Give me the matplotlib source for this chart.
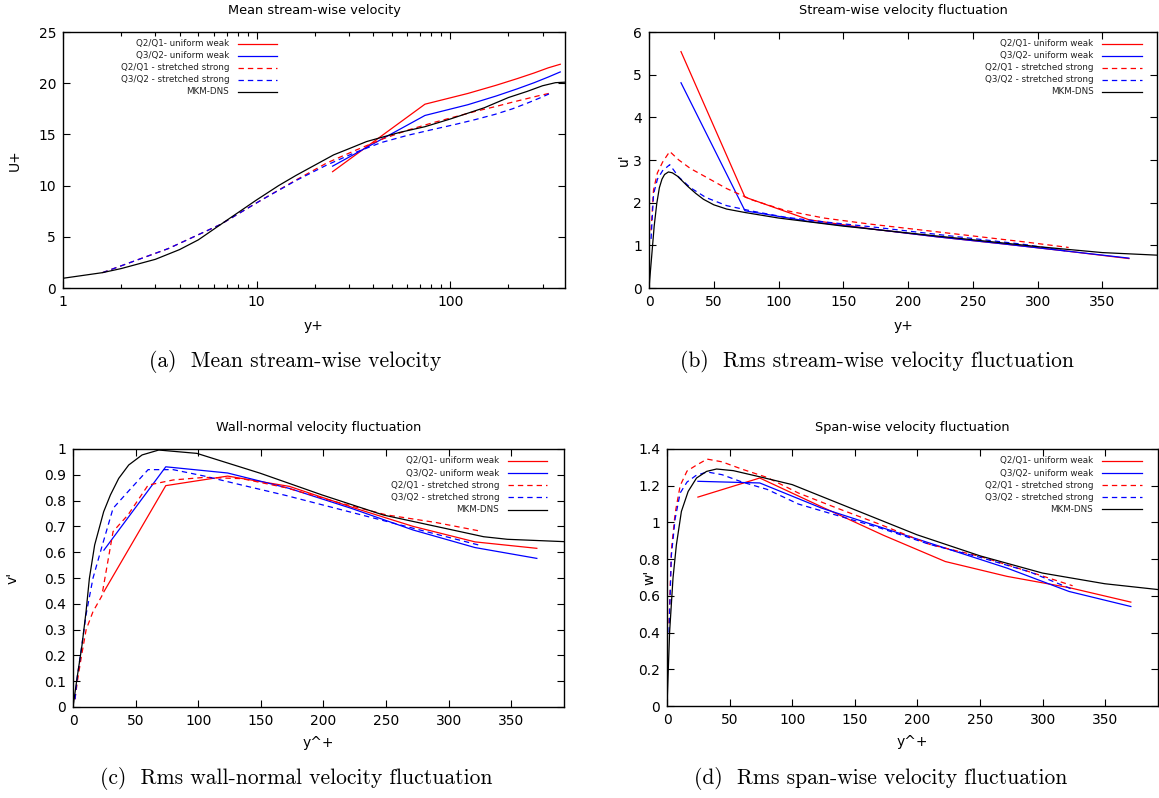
import numpy as np
import matplotlib
matplotlib.use("Agg")
import matplotlib.pyplot as plt
from matplotlib.ticker import FuncFormatter, LogLocator, NullFormatter


# ── Data ─────────────────────────────────────────────────────────────────────
# uniform weak grid (cell centres) and stretched strong grid
y_uni = [24.7, 74.1, 123.5, 172.9, 222.3, 271.7, 321.1, 370.5]
y_str = [1.6, 3.5, 6.5, 10.5, 16, 23, 32, 44, 60, 80, 105, 135, 170, 210, 250, 290, 324]

# (a) mean velocity U+
y_dns_U = [1.0, 1.6, 2.0, 3.0, 4.0, 5.0, 7.0, 10.0, 13.0, 16.0, 20.0, 25.0, 30.0,
           37.0, 45.0, 55.0, 74.0, 100.0, 150.0, 200.0, 250.0, 300.0, 350.0, 392.0]
U_dns = [0.95, 1.5, 1.9, 2.8, 3.75, 4.7, 6.6, 8.6, 10.0, 11.0, 12.0, 13.0, 13.6,
         14.3, 14.75, 15.2, 15.75, 16.5, 17.6, 18.6, 19.2, 19.75, 20.05, 20.1]
U_uni_q21 = [11.36, 17.95, 19.0, 19.8, 20.45, 21.0, 21.5, 21.85]
U_uni_q32 = [11.9, 16.85, 17.9, 18.75, 19.45, 20.05, 20.6, 21.1]
U_str_q21 = [1.5, 3.85, 6.2, 8.55, 10.55, 12.2, 13.4, 14.5, 15.4, 16.1, 16.7,
             17.25, 17.7, 18.15, 18.5, 18.8, 19.0]
U_str_q32 = [1.5, 3.85, 6.2, 8.55, 10.5, 12.0, 13.2, 14.2, 14.9, 15.45, 15.95,
             16.45, 16.95, 17.5, 18.05, 18.55, 18.95]

# (b) stream-wise fluctuation u'
y_dns_f = [0, 2, 4, 6, 8, 10, 12, 15, 18, 22, 26, 30, 36, 42, 50, 60, 74, 100,
           150, 200, 250, 300, 350, 392]
u_dns = [0, 0.72, 1.45, 1.98, 2.35, 2.55, 2.66, 2.72, 2.70, 2.62, 2.50, 2.38,
         2.22, 2.08, 1.95, 1.85, 1.77, 1.64, 1.45, 1.29, 1.13, 0.97, 0.83, 0.77]
u_uni_q21 = [5.54, 2.13, 1.60, 1.38, 1.20, 1.04, 0.87, 0.69]
u_uni_q32 = [4.81, 1.81, 1.56, 1.38, 1.20, 1.04, 0.87, 0.70]
u_str_q21 = [1.35, 2.3, 2.7, 2.95, 3.2, 3.0, 2.8, 2.6, 2.33, 2.06, 1.82, 1.64,
             1.50, 1.36, 1.22, 1.08, 0.95]
u_str_q32 = [1.15, 2.2, 2.55, 2.75, 2.89, 2.6, 2.35, 2.12, 1.93, 1.80, 1.66,
             1.55, 1.44, 1.30, 1.16, 1.02, 0.86]

# (c) wall-normal fluctuation v'
y_dns_v = [0, 3.2, 7.2, 10.4, 13.1, 17.3, 24.5, 29.9, 36.5, 44.5, 55.2, 68.5,
           99, 149.6, 198.9, 248, 297.6, 328, 347, 392]
v_dns = [0, 0.111, 0.240, 0.369, 0.499, 0.628, 0.757, 0.822, 0.886, 0.938,
         0.977, 0.996, 0.983, 0.906, 0.822, 0.744, 0.692, 0.66, 0.65, 0.641]
v_uni_q21 = [0.447, 0.858, 0.895, 0.855, 0.775, 0.70, 0.64, 0.615]
v_uni_q32 = [0.608, 0.931, 0.907, 0.847, 0.770, 0.686, 0.618, 0.576]
v_str_q21 = [0.03, 0.1, 0.19, 0.3, 0.37, 0.43, 0.68, 0.745, 0.86, 0.88, 0.89,
             0.885, 0.85, 0.795, 0.745, 0.715, 0.683]
v_str_q32 = [0.03, 0.12, 0.22, 0.36, 0.5, 0.62, 0.77, 0.835, 0.92, 0.92, 0.895,
             0.86, 0.82, 0.77, 0.72, 0.67, 0.628]

# (d) span-wise fluctuation w'
y_dns_w = [0, 2.1, 4.8, 7.5, 11.5, 16.9, 23.6, 31.6, 39.6, 53, 74.4, 100, 150,
           199.6, 250, 300, 349.7, 394]
w_dns = [0, 0.405, 0.697, 0.878, 1.06, 1.169, 1.242, 1.278, 1.291, 1.282,
         1.248, 1.206, 1.069, 0.933, 0.818, 0.724, 0.666, 0.633]
w_uni_q21 = [1.138, 1.242, 1.085, 0.93, 0.787, 0.706, 0.645, 0.566]
w_uni_q32 = [1.224, 1.215, 1.078, 0.969, 0.86, 0.751, 0.624, 0.542]
w_str_q21 = [0.45, 0.85, 1.05, 1.2, 1.28, 1.31, 1.345, 1.33, 1.29, 1.245, 1.16,
             1.08, 0.99, 0.88, 0.815, 0.73, 0.655]
w_str_q32 = [0.4, 0.82, 1.02, 1.16, 1.22, 1.255, 1.275, 1.26, 1.22, 1.18, 1.10,
             1.04, 0.97, 0.88, 0.81, 0.73, 0.635]

labels = ["Q2/Q1- uniform weak", "Q3/Q2- uniform weak",
          "Q2/Q1 - stretched strong", "Q3/Q2 - stretched strong", "MKM-DNS"]
colors = ["#ff0000", "#0000ff", "#ff0000", "#0000ff", "#000000"]
DASH = (0, (4.3, 3.2))
styles = ["-", "-", DASH, DASH, "-"]
LW = 0.9

W, H = 1159, 798


def add_axes_px(fig, left, top, right, bottom):
    return fig.add_axes([left / W, 1 - bottom / H, (right - left) / W, (bottom - top) / H])


def style_axes(ax):
    ax.tick_params(which="both", direction="in", top=True, right=True,
                   labelsize=10, pad=5)
    ax.tick_params(which="major", length=5, width=0.8)
    ax.tick_params(which="minor", length=3, width=0.8)
    for s in ax.spines.values():
        s.set_linewidth(1.0)


def draw_key(ax, x_text, x0, x1, y_top, dy):
    # gnuplot-style key: right-justified text, sample line on the right
    for i, (lab, c, ls) in enumerate(zip(labels, colors, styles)):
        y = y_top - i * dy
        ax.text(x_text, y, lab, transform=ax.transAxes, ha="right", va="center",
                fontsize=6.3, color="#222222")
        ax.plot([x0, x1], [y, y], transform=ax.transAxes, color=c,
                linestyle=ls, linewidth=LW, clip_on=False)


def plot_panel(ax, y_dns, dns, uni21, uni32, str21, str32):
    ax.plot(y_uni, uni21, color=colors[0], linestyle=styles[0], linewidth=LW)
    ax.plot(y_uni, uni32, color=colors[1], linestyle=styles[1], linewidth=LW)
    ax.plot(y_str, str21, color=colors[2], linestyle=styles[2], linewidth=LW)
    ax.plot(y_str, str32, color=colors[3], linestyle=styles[3], linewidth=LW)
    ax.plot(y_dns, dns, color=colors[4], linestyle=styles[4], linewidth=LW)


def finish(ax, title, xlab, ylab, ylab_x, xlab_y, title_y):
    style_axes(ax)
    ax.set_ylabel(ylab, fontsize=10)
    ax.set_xlabel(xlab, fontsize=10)
    ax.yaxis.set_label_coords(ylab_x, 0.5)
    ax.xaxis.set_label_coords(0.5, xlab_y)
    ax.text(0.5, title_y, title, transform=ax.transAxes,
            ha="center", va="center", fontsize=9.3)


fmt_g = FuncFormatter(lambda v, p: "%g" % v)

fig = plt.figure(figsize=(W / 100, H / 100), dpi=100)

# ── (a) mean velocity ────────────────────────────────────────────────────────
ax = add_axes_px(fig, 63, 32, 565, 288)
plot_panel(ax, y_dns_U, U_dns, U_uni_q21, U_uni_q32, U_str_q21, U_str_q32)
ax.set_xscale("log")
ax.set_xlim(1, 392)
ax.set_ylim(0, 25)
ax.set_yticks(np.arange(0, 26, 5))
ax.xaxis.set_major_formatter(fmt_g)
ax.xaxis.set_minor_locator(LogLocator(base=10, subs=np.arange(2, 10)))
ax.xaxis.set_minor_formatter(NullFormatter())
finish(ax, "Mean stream-wise velocity", "y+", "U+", -0.082, -0.122, 1.084)
draw_key(ax, 0.331, 0.349, 0.427, 0.954, 0.0469)

# ── (b) stream-wise fluctuation ──────────────────────────────────────────────
ax = add_axes_px(fig, 649, 32, 1157, 288)
plot_panel(ax, y_dns_f, u_dns, u_uni_q21, u_uni_q32, u_str_q21, u_str_q32)
ax.set_xlim(0, 392.2)
ax.set_ylim(0, 6)
ax.set_xticks(np.arange(0, 351, 50))
ax.set_yticks(np.arange(0, 7, 1))
ax.yaxis.set_major_formatter(fmt_g)
finish(ax, "Stream-wise velocity fluctuation", "y+", "u'", -0.035, -0.122, 1.084)
draw_key(ax, 0.875, 0.891, 0.970, 0.954, 0.0469)

# ── (c) wall-normal fluctuation ──────────────────────────────────────────────
ax = add_axes_px(fig, 73, 449, 564, 707)
plot_panel(ax, y_dns_v, v_dns, v_uni_q21, v_uni_q32, v_str_q21, v_str_q32)
ax.set_xlim(0, 392.2)
ax.set_ylim(0, 1)
ax.set_xticks(np.arange(0, 351, 50))
ax.set_yticks(np.round(np.arange(0, 1.01, 0.1), 1))
ax.yaxis.set_major_formatter(fmt_g)
finish(ax, "Wall-normal velocity fluctuation", "y^+", "v'", -0.108, -0.113, 1.083)
draw_key(ax, 0.868, 0.885, 0.966, 0.9535, 0.047)

# ── (d) span-wise fluctuation ────────────────────────────────────────────────
ax = add_axes_px(fig, 667, 449, 1158, 706)
plot_panel(ax, y_dns_w, w_dns, w_uni_q21, w_uni_q32, w_str_q21, w_str_q32)
ax.set_xlim(0, 392.2)
ax.set_ylim(0, 1.4)
ax.set_xticks(np.arange(0, 351, 50))
ax.set_yticks(np.round(np.arange(0, 1.41, 0.2), 1))
ax.yaxis.set_major_formatter(fmt_g)
finish(ax, "Span-wise velocity fluctuation", "y^+", "w'", -0.021, -0.113, 1.083)
draw_key(ax, 0.868, 0.885, 0.967, 0.9535, 0.047)

# ── Captions ─────────────────────────────────────────────────────────────────
cap = dict(ha="center", va="center", fontsize=15.5, family="cmr10")
fig.text(295 / W, 1 - 362 / H, "(a)  Mean stream-wise velocity", **cap)
fig.text(877 / W, 1 - 362 / H, "(b)  Rms stream-wise velocity fluctuation", **cap)
fig.text(296 / W, 1 - 778 / H, "(c)  Rms wall-normal velocity fluctuation", **cap)
fig.text(881 / W, 1 - 778 / H, "(d)  Rms span-wise velocity fluctuation", **cap)

fig.savefig("out.png", dpi=100)
